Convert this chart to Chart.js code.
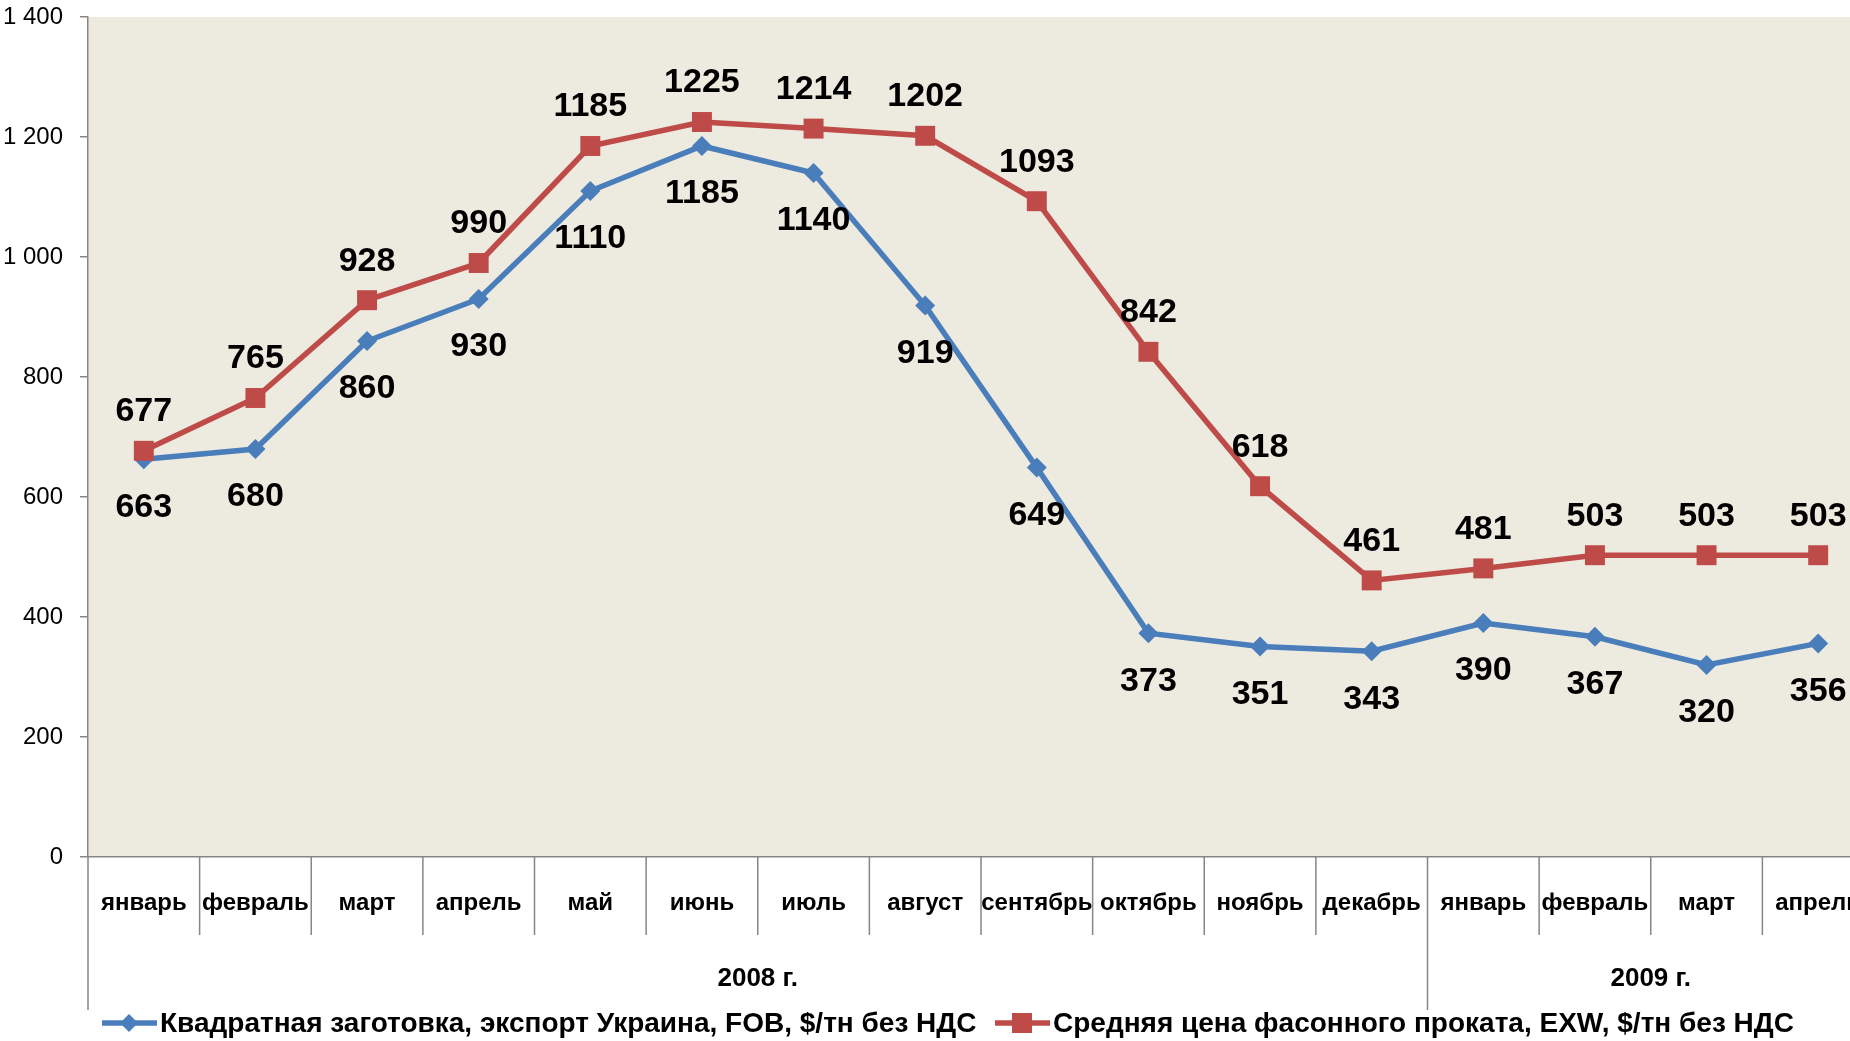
<!DOCTYPE html>
<html>
<head>
<meta charset="utf-8">
<script src="https://cdn.jsdelivr.net/npm/chart.js@4.4.1/dist/chart.umd.min.js"></script>
<style>
    html, body { margin: 0; padding: 0; background: #fff; overflow: hidden; }
    #wrap { width: 1890px; height: 1041px; }
</style>
</head>
<body>
<div id="wrap"><canvas id="chart" width="1890" height="1041"></canvas></div>
<script>
const months = ['январь', 'февраль', 'март', 'апрель', 'май', 'июнь', 'июль', 'август',
    'сентябрь', 'октябрь', 'ноябрь', 'декабрь', 'январь', 'февраль', 'март', 'апрель'];
const years = ['2008 г.', '2009 г.'];
const yearSpans = [12, 4];
const billetValues = [663, 680, 860, 930, 1110, 1185, 1140, 919, 649, 373, 351, 343, 390, 367, 320, 356];
const sectionValues = [677, 765, 928, 990, 1185, 1225, 1214, 1202, 1093, 842, 618, 461, 481, 503, 503, 503];
const seriesNames = ['Квадратная заготовка, экспорт Украина, FOB, $/тн без НДС',
    'Средняя цена фасонного проката, EXW, $/тн без НДС'];
const yTicks = [0, 200, 400, 600, 800, 1000, 1200, 1400];

const blue = '#4A7EBB';
const red = '#BE4B48';
const axisGray = '#868686';
const fontName = '"Liberation Sans", Arial, sans-serif';

// beige plot area
const plotBackground = {
    id: 'plotBackground',
    beforeDraw(chart) {
        let area = chart.chartArea;
        let ctx = chart.ctx;
        ctx.save();
        ctx.fillStyle = '#EDEAE0';
        ctx.fillRect(area.left, area.top, area.right - area.left, area.bottom - area.top);
        ctx.restore();
    }
};

// month separators, year row and its separators
const axisGroups = {
    id: 'axisGroups',
    afterDraw(chart) {
        let ctx = chart.ctx;
        let x = chart.scales.x;
        let bottom = chart.chartArea.bottom;
        let half = (x.getPixelForValue(1) - x.getPixelForValue(0)) / 2;

        ctx.save();
        ctx.strokeStyle = axisGray;
        ctx.lineWidth = 1.5;

        let yearEdges = [0];
        yearSpans.reduce((sum, n) => { yearEdges.push(sum + n); return sum + n; }, 0);

        for (let i = 0; i <= months.length; i++) {
            let px = x.getPixelForValue(i) - half;
            let deep = yearEdges.includes(i);
            ctx.beginPath();
            ctx.moveTo(px, bottom);
            ctx.lineTo(px, deep ? 1010 : 935);
            ctx.stroke();
        }

        ctx.fillStyle = '#000';
        ctx.font = 'bold 26px ' + fontName;
        ctx.textAlign = 'center';
        ctx.textBaseline = 'middle';
        for (let j = 0; j < years.length; j++) {
            let from = x.getPixelForValue(yearEdges[j]) - half;
            let to = x.getPixelForValue(yearEdges[j + 1]) - half;
            ctx.fillText(years[j], (from + to) / 2, 979);
        }
        ctx.restore();
    }
};

// value labels: red above the point, blue below
const pointLabels = {
    id: 'pointLabels',
    afterDatasetsDraw(chart) {
        let ctx = chart.ctx;
        ctx.save();
        ctx.font = 'bold 34px ' + fontName;
        ctx.fillStyle = '#000';
        ctx.textAlign = 'center';
        ctx.textBaseline = 'middle';
        chart.data.datasets.forEach((ds, i) => {
            let meta = chart.getDatasetMeta(i);
            let shift = ds.labelShift;
            meta.data.forEach((pt, k) => {
                ctx.fillText(String(ds.data[k]), pt.x, pt.y + shift);
            });
        });
        ctx.restore();
    }
};

function drawMarker(ctx, style, cx, cy, color) {
    ctx.fillStyle = color;
    ctx.beginPath();
    if (style == 'rect') {
        ctx.rect(cx - 10, cy - 10, 20, 20);
    } else {
        ctx.moveTo(cx - 9, cy);
        ctx.lineTo(cx, cy - 9);
        ctx.lineTo(cx + 9, cy);
        ctx.lineTo(cx, cy + 9);
        ctx.closePath();
    }
    ctx.fill();
}

// legend with line + marker like the original
const lineLegend = {
    id: 'lineLegend',
    afterDraw(chart) {
        let ctx = chart.ctx;
        let y = 1023;
        let items = [
            { x: 102, text: seriesNames[0], color: blue, style: 'rectRot' },
            { x: 995, text: seriesNames[1], color: red, style: 'rect' }
        ];
        ctx.save();
        ctx.font = 'bold 28px ' + fontName;
        ctx.textBaseline = 'middle';
        items.forEach(item => {
            ctx.strokeStyle = item.color;
            ctx.lineWidth = 5.5;
            ctx.beginPath();
            ctx.moveTo(item.x, y);
            ctx.lineTo(item.x + 55, y);
            ctx.stroke();
            drawMarker(ctx, item.style, item.x + 27, y, item.color);
            ctx.fillStyle = '#000';
            ctx.fillText(item.text, item.x + 58, y + 1);
        });
        ctx.restore();
    }
};

const chart = new Chart(document.getElementById('chart'), {
    type: 'line',
    data: {
        labels: months,
        datasets: [{
            label: seriesNames[0],
            data: billetValues,
            borderColor: blue,
            backgroundColor: blue,
            borderWidth: 5.5,
            pointStyle: 'rectRot',
            pointRadius: 10,
            pointBorderWidth: 0,
            tension: 0,
            order: 1,
            labelShift: 48,
        }, {
            label: seriesNames[1],
            data: sectionValues,
            borderColor: red,
            backgroundColor: red,
            borderWidth: 5.5,
            pointStyle: 'rect',
            pointRadius: 14.1,
            pointBorderWidth: 0,
            tension: 0,
            order: 0,
            labelShift: -39,
        }]
    },
    options: {
        responsive: false,
        animation: false,
        devicePixelRatio: 1,
        layout: {
            padding: { top: 17, right: 16, left: 0, bottom: 0 }
        },
        plugins: {
            legend: { display: false },
            tooltip: { enabled: false },
        },
        scales: {
            x: {
                offset: true,
                grid: { display: false, drawTicks: false },
                border: { display: true, color: axisGray, width: 1.5 },
                ticks: {
                    autoSkip: false,
                    maxRotation: 0,
                    padding: 32,
                    color: '#000',
                    font: { family: fontName, size: 24, weight: 'bold' },
                },
                afterFit(scale) {
                    scale.height = 184;
                    scale.paddingLeft = 0;
                    scale.paddingRight = 0;
                }
            },
            y: {
                min: 0,
                max: 1400,
                afterBuildTicks(scale) {
                    scale.ticks = yTicks.map(v => ({ value: v }));
                },
                grid: { drawOnChartArea: false, drawTicks: true, tickLength: 8, color: axisGray, lineWidth: 1.5 },
                border: { display: true, color: axisGray, width: 1.5 },
                ticks: {
                    padding: 17,
                    color: '#000',
                    font: { family: fontName, size: 24 },
                    callback: v => String(v).replace(/\B(?=(\d{3})+(?!\d))/g, ' '),
                },
                afterFit(scale) {
                    scale.width = 88;
                    scale.paddingTop = 0;
                    scale.paddingBottom = 0;
                }
            }
        }
    },
    plugins: [plotBackground, axisGroups, pointLabels, lineLegend]
});
</script>
</body>
</html>
